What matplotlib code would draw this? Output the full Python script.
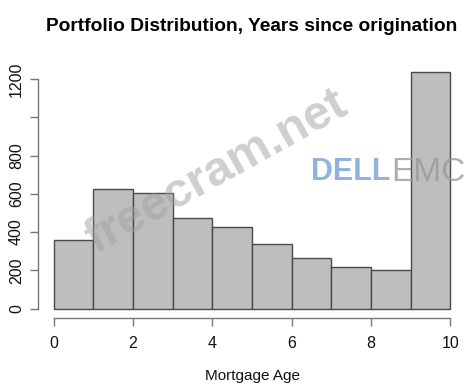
import numpy as np
import matplotlib.pyplot as plt

plt.rcParams['font.family'] = ['Liberation Sans', 'DejaVu Sans']

# histogram bins (years since origination) and counts
bin_edges = [0, 1, 2, 3, 4, 5, 6, 7, 8, 9, 10]
counts = [357, 623, 603, 475, 424, 340, 267, 215, 200, 1235]
x_ticks = [0, 2, 4, 6, 8, 10]
y_ticks = [0, 200, 400, 600, 800, 1000, 1200]
y_labels = ['0', '200', '400', '600', '800', '', '1200']

fig = plt.figure(figsize=(4.68, 3.84), dpi=100)
ax = fig.add_axes([0.081, 0.172, 0.915, 0.664])

lefts = np.array(bin_edges[:-1])
widths = np.diff(bin_edges)
ax.bar(lefts, counts, width=widths, align='edge', color='#bebebe',
       edgecolor='#4a4a4a', linewidth=1.0, zorder=2)

ax.set_xlim(-0.4, 10.4)
ax.set_ylim(-49, 1284)

for s in ['top', 'right']:
    ax.spines[s].set_visible(False)
ax.spines['left'].set_bounds(0, 1200)
ax.spines['bottom'].set_bounds(0, 10)
for s in ['left', 'bottom']:
    ax.spines[s].set_color('#777777')
    ax.spines[s].set_linewidth(1.0)

ax.set_xticks(x_ticks)
ax.set_yticks(y_ticks)
ax.set_yticklabels(y_labels, rotation=90, va='center')
ax.tick_params(axis='both', colors='#777777', labelcolor='#111111',
               labelsize=11.5, length=6, width=1.0)
ax.tick_params(axis='y', pad=4)
ax.tick_params(axis='x', pad=7)

ax.set_xlabel('Mortgage Age', fontsize=11, color='#111111', labelpad=13)
fig.text(0.537, 0.93, 'Portfolio Distribution, Years since origination',
         ha='center', va='center', fontsize=13.8, fontweight='bold')

# watermarks
fig.text(0.462, 0.55, 'freecram.net', ha='center', va='center', rotation=29,
         fontsize=35, fontweight='bold', color='#a0a0a0', alpha=0.5, zorder=5)
fig.text(0.665, 0.552, 'DELL', ha='left', va='center', fontsize=22,
         fontweight='bold', color='#7aa6d6', alpha=0.85, zorder=5)
fig.text(0.835, 0.552, 'EMC', ha='left', va='center', fontsize=24,
         color='#9a9a9a', alpha=0.8, zorder=5)

fig.savefig('out.png', dpi=100)
